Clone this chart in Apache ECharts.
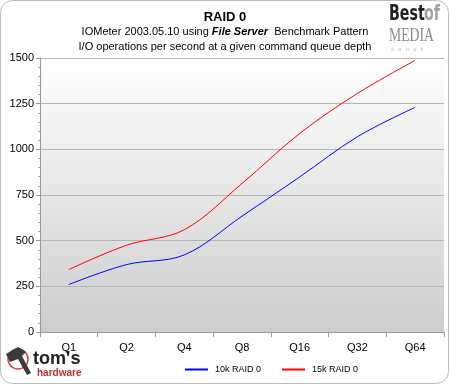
<!DOCTYPE html>
<html><head><meta charset="utf-8">
<script src="https://cdn.jsdelivr.net/npm/echarts@6/dist/echarts.min.js"></script>
<style>html,body{margin:0;padding:0;background:#fff}#c{width:450px;height:385px}</style>
</head><body><div id="c"></div>
<script>
const categories = ['Q1','Q2','Q4','Q8','Q16','Q32','Q64'];
const raid10k = [260, 369, 422, 634, 849, 1069, 1230];
const raid15k = [342, 475, 560, 813, 1087, 1306, 1487];
const yTicks = [0, 250, 500, 750, 1000, 1250, 1500];

const chart = echarts.init(document.getElementById('c'));
const ff = '"Liberation Sans", Arial, sans-serif';
chart.setOption({
  animation: false,
  backgroundColor: '#fff',
  textStyle: {fontFamily: ff},
  grid: {left: 40, right: 6, top: 58, bottom: 53,
    show: true, borderWidth: 0,
    backgroundColor: new echarts.graphic.LinearGradient(0,0,0,1,[{offset:0,color:'#ffffff'},{offset:1,color:'#cdcdcd'}])},
  title: {
    text: 'RAID 0', left: 'center', top: 6,
    textStyle: {fontFamily: ff, fontSize: 13, fontWeight: 'bold', color: '#000'}
  },
  graphic: [
    {type: 'rect', shape: {x: 0.5, y: 0.5, width: 448, height: 383, r: 12}, style: {fill: 'none', stroke: '#bdbdbd', lineWidth: 1}, z: -10},
    {type: 'text', left: 'center', top: 26, style: {
      text: 'IOMeter 2003.05.10 using {b|File Server}  Benchmark Pattern',
      font: '11px ' + ff, fill: '#000',
      rich: {b: {fontFamily: ff, fontSize: 11, fontWeight: 'bold', fontStyle: 'italic', fill: '#000'}}
    }},
    {type: 'text', left: 'center', top: 41, style: {text: 'I/O operations per second at a given command queue depth', font: '11px ' + ff, fill: '#000'}},
    // Best of MEDIA logo
    {type: 'text', x: 389, y: 3, scaleX: 0.72, style: {text: 'Best', font: 'bold 22px "DejaVu Sans Condensed", sans-serif', fill: '#222'}},
    {type: 'text', x: 424, y: 3, scaleX: 0.72, style: {text: 'of', font: 'bold 22px "DejaVu Sans Condensed", sans-serif', fill: '#a0a0a0'}},
    {type: 'text', x: 389, y: 27, scaleX: 0.72, style: {text: 'MEDIA', font: '19px "Liberation Serif", serif', fill: '#8a8a8a'}},
    {type: 'text', x: 391, y: 48, style: {text: 'G    R    O    U    P', font: '4px ' + ff, fill: '#aaa'}},
    // tom's hardware logo
    {type: 'circle', shape: {cx: 18, cy: 359, r: 10}, style: {fill: 'none', stroke: '#d04040', lineWidth: 1.5}},
    {type: 'polygon', shape: {points: [[6,354],[18,347],[26,352],[22,356],[31,373],[27,375],[18,359],[10,362]]}, style: {fill: '#3a3a3a'}},
    {type: 'text', x: 33, y: 349, scaleX: 0.95, style: {text: "tom's", font: 'bold 19px ' + ff, fill: '#222'}},
    {type: 'text', x: 37, y: 368, style: {text: 'hardware', font: 'bold 10px ' + ff, fill: '#c03030'}}
  ],
  legend: {
    bottom: 6, left: 180, itemWidth: 23, itemHeight: 2, itemGap: 21,
    icon: 'rect',
    textStyle: {fontFamily: ff, fontSize: 9, color: '#000', padding: [0,0,0,2]},
    data: ['10k RAID 0', '15k RAID 0']
  },
  xAxis: {
    type: 'category', data: categories, boundaryGap: true,
    axisLine: {lineStyle: {color: '#999'}},
    axisTick: {show: true, alignWithLabel: false, lineStyle: {color: '#999'}},
    axisLabel: {color: '#000', fontSize: 11, fontFamily: ff, margin: 10},
    splitLine: {show: false}
  },
  yAxis: {
    type: 'value', min: 0, max: 1500, interval: 250,
    axisLine: {show: true, lineStyle: {color: '#999'}},
    axisTick: {show: true, length: 4, lineStyle: {color: '#999'}},
    minorTick: {show: true, splitNumber: 5, length: 2, lineStyle: {color: '#aaa'}},
    axisLabel: {color: '#000', fontSize: 11, fontFamily: ff, margin: 6,
      formatter: v => yTicks.includes(v) ? String(v) : ''},
    splitLine: {show: true, lineStyle: {color: '#b4b4b4', width: 1}}
  },
  series: [
    {name: '10k RAID 0', type: 'line', data: raid10k, smooth: 0.35, symbol: 'none',
      lineStyle: {color: '#0000ff', width: 1}, itemStyle: {color: '#0000ff'}},
    {name: '15k RAID 0', type: 'line', data: raid15k, smooth: 0.35, symbol: 'none',
      lineStyle: {color: '#ff0000', width: 1}, itemStyle: {color: '#ff0000'}}
  ]
});
</script></body></html>
